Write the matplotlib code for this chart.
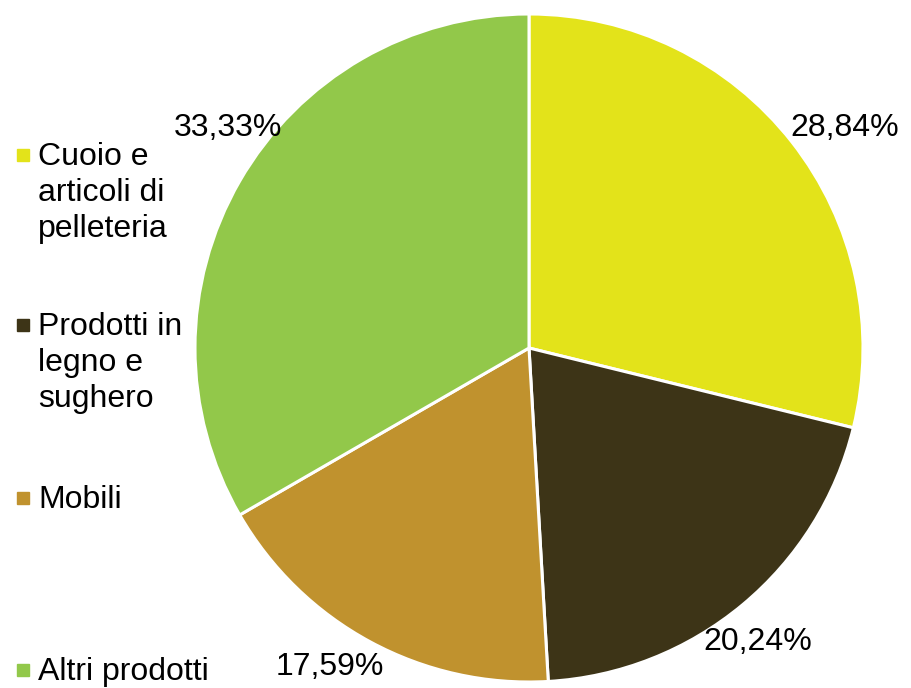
import matplotlib.pyplot as plt
from matplotlib.patches import Rectangle

plt.rcParams['font.family'] = ['Liberation Sans', 'DejaVu Sans']

# data
categories = ["Cuoio e\narticoli di\npelleteria", "Prodotti in\nlegno e\nsughero", "Mobili", "Altri prodotti"]
shares = [28.84, 20.24, 17.59, 33.33]
colors = ["#E3E31A", "#3D3417", "#C0922E", "#92C84A"]

W, H = 912, 688
fig = plt.figure(figsize=(W / 100, H / 100), dpi=100)

# pie centred at (529, 348) px, radius ~334 px
cx, cy, r = 529, 348, 334
ax = fig.add_axes([(cx - r) / W, 1 - (cy + r) / H, 2 * r / W, 2 * r / H])
wedges, texts, autotexts = ax.pie(
    shares, colors=colors, startangle=90, counterclock=False,
    autopct=lambda p: f"{p:.2f}%".replace(".", ","), pctdistance=1.13,
    wedgeprops=dict(edgecolor="white", linewidth=2.2),
    textprops=dict(fontsize=23, color="black"), radius=1.0)
ax.set_xlim(-1, 1)
ax.set_ylim(-1, 1)
ax.set_aspect("equal")
ax.axis("off")

# value labels placed like the original (outside end)
label_px = [(845, 128), (758, 642), (330, 667), (228, 128)]
for t, (px, py) in zip(autotexts, label_px):
    t.set_position(((px - cx) / r, (cy - py) / r))
    t.set_ha("center")
    t.set_va("center")

# legend drawn by hand on the left
legend_y = [155, 325, 498, 670]
for lab, col, y in zip(categories, colors, legend_y):
    fig.patches.append(Rectangle((17 / W, 1 - (y + 6) / H), 12 / W, 12 / H,
                                 transform=fig.transFigure, color=col))
    fig.text(38 / W, 1 - (y - 13) / H, lab, fontsize=23, va="top", ha="left",
             linespacing=1.27)

fig.savefig("out.png", dpi=100)
